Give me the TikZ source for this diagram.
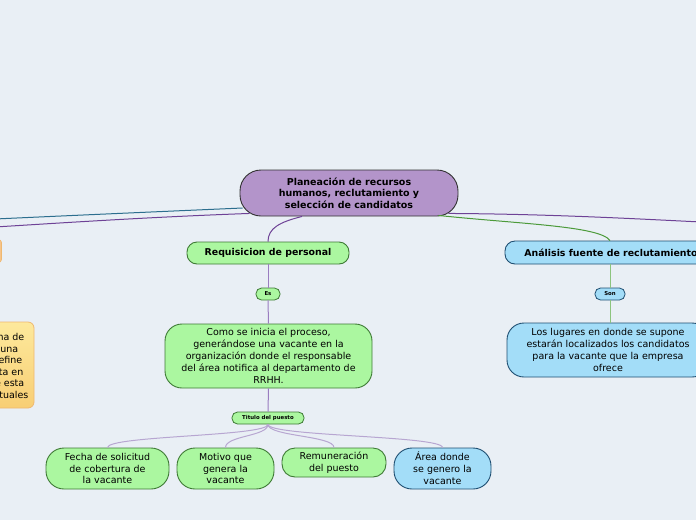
\documentclass[tikz,border=0pt]{standalone}
\usepackage{fontspec}
\setmainfont{DejaVu Sans}
\usetikzlibrary{calc}
\definecolor{bgc}{HTML}{E9EFF5}
\definecolor{cpurple}{HTML}{B394CA}
\definecolor{cgreen}{HTML}{ABF7A0}
\definecolor{cgreenb}{HTML}{3E7A35}
\definecolor{cblue}{HTML}{A3DDF8}
\definecolor{cblueb}{HTML}{1F4F72}
\definecolor{lteal}{HTML}{2C6E8E}
\definecolor{lpurple}{HTML}{6E4296}
\definecolor{lpurple2}{HTML}{9A7DC0}
\definecolor{lpurple3}{HTML}{B7A6D1}
\definecolor{lgreen}{HTML}{4C9A3A}
\definecolor{lgreen2}{HTML}{8CC47E}
\definecolor{cyel1}{HTML}{FDE99C}
\definecolor{cyel2}{HTML}{F8CE74}
\definecolor{cyelb}{HTML}{EFB870}
\definecolor{corange}{HTML}{F6C48A}
\tikzset{
  box/.style={draw, line width=0.9pt, align=center, inner sep=0pt, font=\fontsize{9.5}{11.9}\selectfont},
  gbox/.style={box, fill=cgreen, draw=cgreenb},
  bbox/.style={box, fill=cblue, draw=cblueb},
  tiny/.style={draw, line width=0.8pt, inner sep=0pt, rounded corners=5.5pt, minimum height=12pt, font=\fontsize{5.4}{6}\selectfont\bfseries},
  conn/.style={line width=1pt},
}
\begin{document}
\begin{tikzpicture}[x=1pt,y=-1pt]
\useasboundingbox (0,0) rectangle (696,520);
\fill[bgc] (0,0) rectangle (696,520);
\begin{scope}
\clip (0,0) rectangle (696,520);
% off-page coordinates
\coordinate (offL1) at (-5,219);
\coordinate (offL2) at (-5,227);
\coordinate (offR) at (701,222);
% nodes
\node[box, fill=cpurple, draw=black!80, rounded corners=21pt, minimum width=218pt, minimum height=46pt, font=\fontsize{9.5}{11.6}\selectfont\bfseries] (central) at (349,193) {Planeación de recursos\\humanos, reclutamiento y\\ selección de candidatos};
\node[gbox, rounded corners=10pt, minimum width=162pt, minimum height=22pt, font=\fontsize{9.4}{10}\selectfont\bfseries] (req) at (268,253) {Requisicion de personal};
\node[tiny, fill=cgreen, draw=cgreenb, minimum width=24pt] (es) at (268,294) {Es};
\node[gbox, rounded corners=17pt, minimum width=207pt, minimum height=64pt] (como) at (268.5,356) {Como se inicia el proceso,\\generándose una vacante en la\\organización donde el responsable\\del área notifica al departamento de\\RRHH.};
\node[tiny, fill=cgreen, draw=cgreenb, minimum width=72pt] (tit) at (268,418) {Titulo del puesto};
\node[gbox, rounded corners=18pt, minimum width=123pt, minimum height=41pt] (fecha) at (107.5,468.5) {Fecha de solicitud\\de cobertura de\\ la vacante};
\node[gbox, rounded corners=18pt, minimum width=97pt, minimum height=41pt] (motivo) at (225.5,468.5) {Motivo que\\genera la\\ vacante};
\node[gbox, rounded corners=13pt, minimum width=104pt, minimum height=29pt] (remu) at (334,462.5) {Remuneración\\del puesto};
\node[bbox, rounded corners=18pt, minimum width=97pt, minimum height=41pt] (area) at (442.5,468.5) {Área donde\\se genero la\\vacante};
\node[bbox, rounded corners=10pt, minimum width=212pt, minimum height=23pt, font=\fontsize{9.4}{10}\selectfont\bfseries] (anal) at (611,252.5) {Análisis fuente de reclutamiento};
\node[tiny, fill=cblue, draw=cblueb, minimum width=30pt] (son) at (610,294) {Son};
\node[bbox, rounded corners=17pt, minimum width=202pt, minimum height=54pt] (lug) at (608,350) {Los lugares en donde se supone\\estarán localizados los candidatos\\para la vacante que la empresa\\ofrece};
% left cut-off nodes
\node[fill=corange, draw=cyelb, line width=0.6pt, rounded corners=3pt, minimum width=40pt, minimum height=23pt] (orng) at (-18.5,251) {};
\node[draw=cyelb, line width=0.8pt, rounded corners=6pt, top color=cyel1, bottom color=cyel2, minimum width=130pt, minimum height=86pt] (yel) at (-31,365) {};
\node[align=right, inner sep=0pt, anchor=east, font=\fontsize{9.5}{11.6}\selectfont] (yeltxt) at (28.5,366) {na de\kern4pt\\una\kern10pt\\efine\kern6pt\\ta en\kern5pt\\e esta\kern4pt\\tuales};
% connectors
\draw[conn, lteal] ($(central.west)+(3,15)$) .. controls (150,212) and (60,216) .. (offL1);
\draw[conn, lpurple] ($(central.south west)+(10,-3)$) .. controls (150,217) and (60,223) .. (offL2);
\draw[conn, lpurple] ($(central.south east)+(-10,-3)$) .. controls (550,214) and (640,219) .. (offR);
\draw[conn, lgreen] ($(central.south east)+(-20,-1)$) .. controls (520,224) and (600,226) .. (anal.north -| son);
\draw[conn, lpurple] ($(central.south)+(-47,0)$) .. controls (280,222) and (268,228) .. (req.north);
\draw[conn, lpurple2] (req.south) -- (es.north);
\draw[conn, lpurple2] (es.south) -- (como.north);
\draw[conn, lpurple2] (como.south) -- (tit.north);
\draw[conn, lgreen2] (anal.south -| son) -- (son.north);
\draw[conn, lgreen2] (son.south) -- (lug.north -| son);
\foreach \t in {fecha, motivo, remu, area}{
  \draw[conn, lpurple3] (tit.south) .. controls ($(tit.south)+(0,12)$) and ($(\t.north)+(0,-12)$) .. (\t.north);
}
\end{scope}
\end{tikzpicture}
\end{document}
